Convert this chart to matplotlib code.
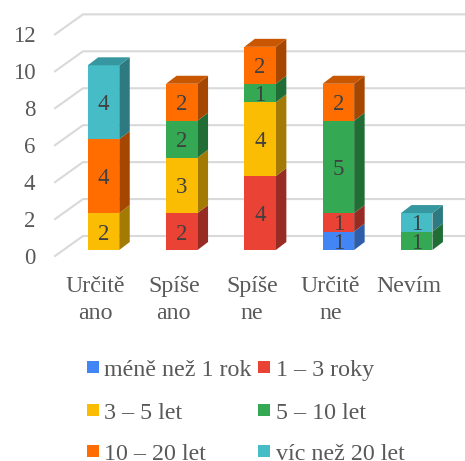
import matplotlib
matplotlib.use("Agg")
import matplotlib.pyplot as plt
from matplotlib.patches import Polygon, Rectangle

plt.rcParams["font.family"] = ["Liberation Serif", "DejaVu Serif"]

CATEGORIES = ["Určitě\nano", "Spíše\nano", "Spíše\nne", "Určitě\nne", "Nevím"]
SERIES = ["méně než 1 rok", "1 – 3 roky", "3 – 5 let", "5 – 10 let", "10 – 20 let", "víc než 20 let"]
MENE_1 = [0, 0, 0, 1, 0]
ROK_1_3 = [0, 2, 4, 1, 0]
LET_3_5 = [2, 3, 4, 0, 0]
LET_5_10 = [0, 2, 1, 5, 1]
LET_10_20 = [4, 2, 2, 2, 0]
VIC_20 = [4, 0, 0, 0, 1]
VALEURS = [MENE_1, ROK_1_3, LET_3_5, LET_5_10, LET_10_20, VIC_20]
Y_TICKS = [0, 2, 4, 6, 8, 10, 12]

# face, cote, dessus
COULEURS = [
    ("#4285f4", "#2e5daa", "#3a74d6"),
    ("#ea4335", "#972c24", "#b8352a"),
    ("#fbbc04", "#a37a03", "#c99603"),
    ("#34a853", "#216d36", "#2a8a44"),
    ("#ff6d01", "#a54701", "#c95601"),
    ("#46bdc6", "#2d7b81", "#3797a0"),
]
TEXTE, GRILLE = "#595959", "#d9d9d9"

W, H = 465, 461
X0, PAS_X = 103.5, 78.3     # pixel du centre de la 1re categorie, ecart
Y0, PAS_Y = 250, 18.47      # pixel de la valeur 0, pixels par unite


def px_x(p):
    return (p - X0) / PAS_X


def px_y(p):
    return (Y0 - p) / PAS_Y


fig = plt.figure(figsize=(W / 100, H / 100), dpi=100)
ax = fig.add_axes([0, 0, 1, 1])
ax.set_xlim(px_x(0), px_x(W))
ax.set_ylim(px_y(H), px_y(0))
ax.axis("off")

# profondeur du decor et des barres, en unites de donnees
DX_BARRE, DY_BARRE = 10.5 / PAS_X, 8 / PAS_Y
LARGEUR = 31.5 / PAS_X
GAUCHE, FOND_G, FOND_D = px_x(55), px_x(83), px_x(465)
DY_MUR = 20 / PAS_Y
DECALAGE = -6 / PAS_Y       # le bord avant du sol est sous la base des barres

for v in Y_TICKS:
    y = v + DECALAGE
    ax.plot([GAUCHE, FOND_G, FOND_D], [y, y + DY_MUR, y + DY_MUR],
            color=GRILLE, lw=1.5, solid_joinstyle="miter", zorder=1)
    ax.text(px_x(35.5), y, str(v), ha="right", va="center_baseline", fontsize=16.5,
            color=TEXTE, zorder=5)

for i in range(len(CATEGORIES)):
    bas = 0
    gauche = i - LARGEUR / 2
    droite = i + LARGEUR / 2
    dernier = max(k for k, s in enumerate(VALEURS) if s[i] > 0)
    for k, s in enumerate(VALEURS):
        v = s[i]
        if v == 0:
            continue
        face, cote, dessus = COULEURS[k]
        ax.add_patch(Polygon(
            [(droite, bas), (droite + DX_BARRE, bas + DY_BARRE),
             (droite + DX_BARRE, bas + v + DY_BARRE), (droite, bas + v)],
            fc=cote, ec="none", zorder=3))
        ax.add_patch(Rectangle((gauche, bas), LARGEUR, v, fc=face, ec="none", zorder=3))
        if k == dernier:
            ax.add_patch(Polygon(
                [(gauche, bas + v), (gauche + DX_BARRE, bas + v + DY_BARRE),
                 (droite + DX_BARRE, bas + v + DY_BARRE), (droite, bas + v)],
                fc=dessus, ec="none", zorder=3))
        ax.text(i, bas + v / 2, str(v), ha="center", va="center_baseline", fontsize=16.5,
                color="#404040", zorder=4)
        bas += v

# les libelles sont centres un peu a gauche des barres
DECALAGE_CAT = -8 / PAS_X
for i, c in enumerate(CATEGORIES):
    ax.text(i + DECALAGE_CAT, px_y(276), c, ha="center", va="top", fontsize=17.2,
            color=TEXTE, linespacing=1.36)

# legende : 2 colonnes, 3 lignes
LEG_X = [87, 258]
LEG_Y = [367, 410, 451]
for k, nom in enumerate(SERIES):
    x = LEG_X[k % 2]
    y = LEG_Y[k // 2]
    ax.add_patch(Rectangle((px_x(x), px_y(y + 6)), 12 / PAS_X, 12 / PAS_Y,
                           fc=COULEURS[k][0], ec="none", zorder=3))
    ax.text(px_x(x + 17.5), px_y(y + 1), nom, ha="left", va="center_baseline", fontsize=17.3,
            color=TEXTE)

fig.savefig("out.png", dpi=100)
